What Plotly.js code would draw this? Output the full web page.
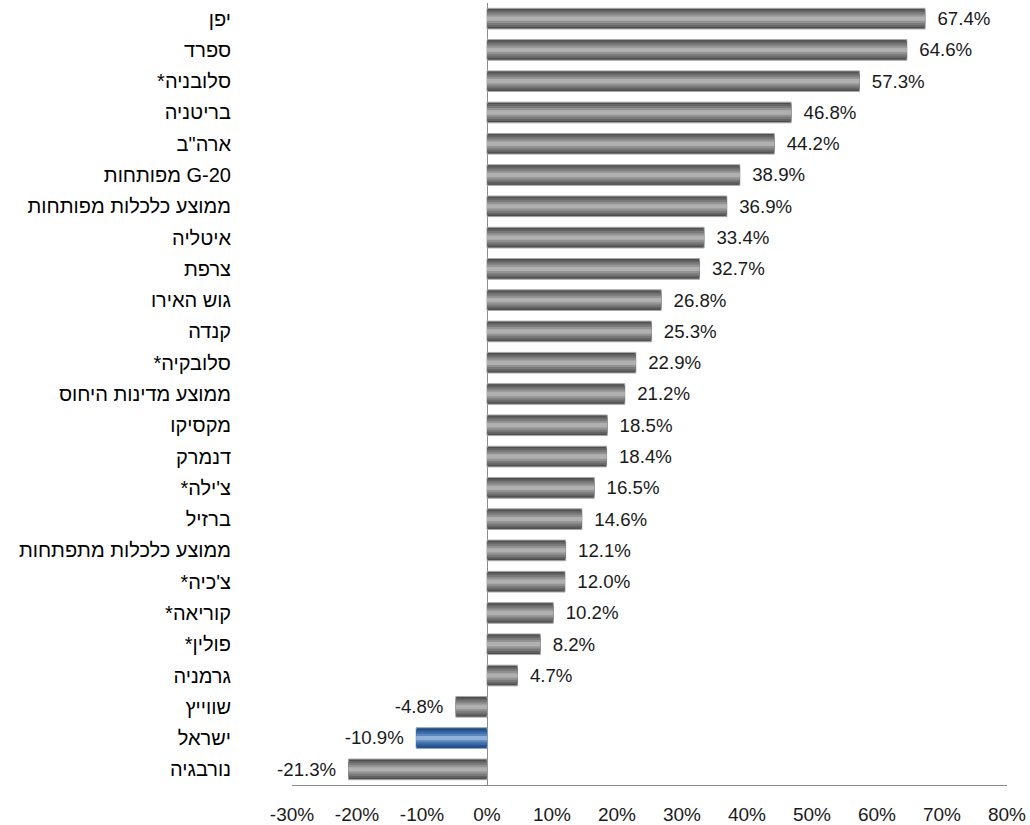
<!DOCTYPE html>
<html><head><meta charset="utf-8">
<script src="https://cdn.plot.ly/plotly-3.0.1.min.js"></script>
<style>html,body{margin:0;padding:0;background:#fff}#chart{width:1030px;height:825px}</style>
</head><body><div id="chart"></div>
<script>
const categories = ["יפן","ספרד","*סלובניה","בריטניה","ארה\"ב","מפותחות G-20","ממוצע כלכלות מפותחות","איטליה","צרפת","גוש האירו","קנדה","*סלובקיה","ממוצע מדינות היחוס","מקסיקו","דנמרק","*צ'ילה","ברזיל","ממוצע כלכלות מתפתחות","*צ'כיה","*קוריאה","*פולין","גרמניה","שווייץ","ישראל","נורבגיה"];
const values = [67.4,64.6,57.3,46.8,44.2,38.9,36.9,33.4,32.7,26.8,25.3,22.9,21.2,18.5,18.4,16.5,14.6,12.1,12.0,10.2,8.2,4.7,-4.8,-10.9,-21.3];
const highlighted = "ישראל";
const xTickVals = [-30,-20,-10,0,10,20,30,40,50,60,70,80];
const xTickText = ["-30%","-20%","-10%","0%","10%","20%","30%","40%","50%","60%","70%","80%"];

const labels = values.map(v => v >= 0 ? "\u2002" + v.toFixed(1) + "%" : v.toFixed(1) + "%\u2002");
const isHi = categories.map(c => c === highlighted);
// layered shades (outer -> inner) to imitate the bevelled gradient
const grayShades = ["#4e4e4e","#646464","#7a7a7a","#939393","#b0b0b0"];
const blueShades = ["#1f467c","#2d5894","#3d6aa8","#5a86c0","#8fb1dc"];
const layerWidths = [0.66,0.54,0.42,0.28,0.14];

const traces = layerWidths.map((w, i) => {
  const t = {type:"bar", orientation:"h", y:categories, x:values, width:w,
    marker:{color:isHi.map(h => h ? blueShades[i] : grayShades[i]), line:{width:0}},
    hoverinfo:"skip", textposition:"none"};
  if (i === 0) {
    t.marker.line = {color:isHi.map(h => h ? "#8aa6cf" : "#a8a8a8"), width:1};
    t.text = labels; t.textposition = "outside"; t.cliponaxis = false;
    t.textfont = {family:"Liberation Sans, Arial, sans-serif", size:19, color:"#1a1a1a"};
  }
  return t;
});

const layout = {
  width:1030, height:825,
  margin:{l:292, r:23, t:3, b:40},
  paper_bgcolor:"#ffffff", plot_bgcolor:"#ffffff",
  barmode:"overlay", showlegend:false,
  font:{family:"Liberation Sans, Arial, sans-serif", color:"#000"},
  xaxis:{range:[-30,80], tickvals:xTickVals, ticktext:xTickText, showgrid:false,
    zeroline:true, zerolinecolor:"#8c8c8c", zerolinewidth:1,
    showline:true, linecolor:"#8c8c8c", linewidth:1, ticks:"",
    tickfont:{size:19, color:"#1a1a1a"}, ticklabelstandoff:12, fixedrange:true},
  yaxis:{type:"category", autorange:"reversed", showgrid:false, zeroline:false,
    showline:false, ticks:"", tickfont:{size:20, color:"#000"}, ticklabelstandoff:60, fixedrange:true}
};
Plotly.newPlot("chart", traces, layout, {displayModeBar:false, staticPlot:true});
</script></body></html>
